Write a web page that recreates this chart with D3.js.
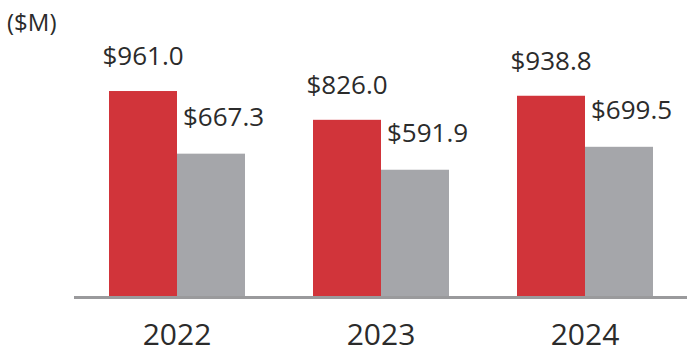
<!DOCTYPE html>
<html>
<head>
<meta charset="utf-8">
<script src="https://cdn.jsdelivr.net/npm/d3@7"></script>
<style>
  html, body { margin: 0; padding: 0; background: #fff; }
  text { font-family: "Open Sans", sans-serif; fill: #2b2b2b; }
</style>
</head>
<body>
<div id="chart"></div>
<script>
// data
const years = ["2022", "2023", "2024"];
const redValues = [961.0, 826.0, 938.8];
const greyValues = [667.3, 591.9, 699.5];
const unitLabel = "($M)";

const width = 687;
const height = 354;
const baseY = 296;

const svg = d3.select("#chart")
  .append("svg")
  .attr("width", width)
  .attr("height", height);

// x: one band per year, split into two bars
const x = d3.scaleBand()
  .domain(years)
  .range([75, 687])
  .paddingInner(1 / 3)
  .paddingOuter(1 / 6);

const sub = d3.scaleBand()
  .domain(["red", "grey"])
  .range([0, x.bandwidth()]);

const y = d3.scaleLinear()
  .domain([0, 1000])
  .range([baseY, baseY - 213.3]);

const rows = years.map((yr, i) => ({ year: yr, red: redValues[i], grey: greyValues[i] }));

const g = svg.selectAll("g.year")
  .data(rows)
  .join("g")
  .attr("class", "year")
  .attr("transform", d => "translate(" + x(d.year) + ",0)");

g.append("rect")
  .attr("x", sub("red"))
  .attr("y", d => y(d.red))
  .attr("width", sub.bandwidth())
  .attr("height", d => baseY - y(d.red))
  .attr("fill", "#d1343a");

g.append("rect")
  .attr("x", sub("grey"))
  .attr("y", d => y(d.grey))
  .attr("width", sub.bandwidth())
  .attr("height", d => baseY - y(d.grey))
  .attr("fill", "#a5a6aa");

// value labels
g.append("text")
  .attr("x", sub("red") + sub.bandwidth() / 2)
  .attr("y", d => y(d.red) - 26)
  .attr("text-anchor", "middle")
  .style("font-size", "26px")
  .text(d => "$" + d.red.toFixed(1));

g.append("text")
  .attr("x", sub("grey") + 6)
  .attr("y", d => y(d.grey) - 28)
  .style("font-size", "26px")
  .text(d => "$" + d.grey.toFixed(1));

// baseline
svg.append("line")
  .attr("x1", 74)
  .attr("x2", width)
  .attr("y1", baseY + 1.5)
  .attr("y2", baseY + 1.5)
  .attr("stroke", "#9a9a9c")
  .attr("stroke-width", 3);

// year labels
svg.selectAll("text.yr")
  .data(years)
  .join("text")
  .attr("class", "yr")
  .attr("x", d => x(d) + x.bandwidth() / 2)
  .attr("y", 345)
  .attr("text-anchor", "middle")
  .style("font-size", "30px")
  .text(d => d);

svg.append("text")
  .attr("x", 7)
  .attr("y", 31)
  .style("font-size", "24px")
  .text(unitLabel);
</script>
</body>
</html>
